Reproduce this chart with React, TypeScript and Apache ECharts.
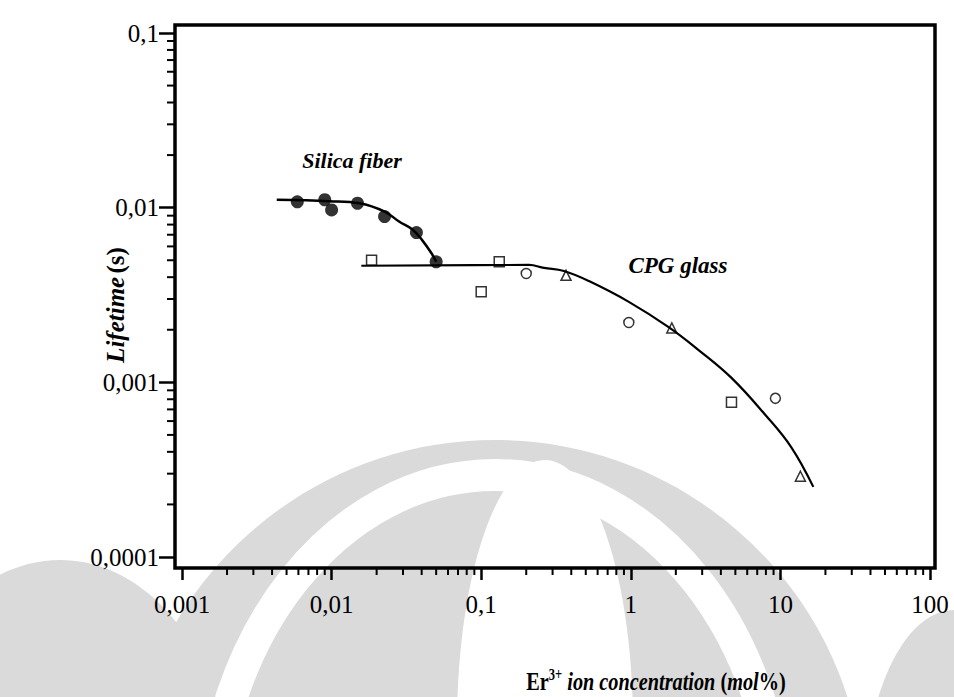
import React, { useEffect, useRef } from 'react';
import * as echarts from 'echarts';

// Axis ranges / tick labels
const xTickValues = [0.001, 0.01, 0.1, 1, 10, 100];
const yTickValues = [0.0001, 0.001, 0.01, 0.1];
const X_MIN = 0.001;
const X_MAX = 100;
const Y_MIN = 0.0001;
const Y_MAX = 0.1;

// Silica fiber measured points (filled)
const silicaX = [0.0059, 0.009, 0.01, 0.0149, 0.0226, 0.0369, 0.05];
const silicaY = [0.0108, 0.0111, 0.0097, 0.0106, 0.0089, 0.0072, 0.0049];
// Silica fiber fitted curve
const silicaFitX = [0.0043, 0.0097, 0.0154, 0.0226, 0.0284, 0.0347, 0.0404, 0.0464, 0.0501];
const silicaFitY = [0.0111, 0.0109, 0.0106, 0.0095, 0.0083, 0.0075, 0.0065, 0.0055, 0.0049];

// CPG glass measured points (open)
const cpgX = [0.0185, 0.1, 0.132, 0.2, 0.369, 0.97, 1.88, 4.71, 9.26, 13.6];
const cpgY = [0.005, 0.0033, 0.0049, 0.0042, 0.0041, 0.0022, 0.00205, 0.00077, 0.00081, 0.00029];
const cpgShapes = ['rect', 'rect', 'rect', 'circle', 'triangle', 'circle', 'triangle', 'rect', 'circle', 'triangle'];
// CPG glass fitted curve
const cpgFitX = [0.0158, 0.209, 0.263, 0.357, 0.525, 0.97, 1.79, 2.84, 4.71, 7.94, 11.8, 16.6];
const cpgFitY = [0.00465, 0.0047, 0.00452, 0.00434, 0.0038, 0.00289, 0.00207, 0.00153, 0.00106, 0.00065, 0.000426, 0.000252];

const minorMultipliers = [2, 3, 4, 5, 6, 7, 8, 9];
const xDecades = [0.001, 0.01, 0.1, 1, 10];
const yDecades = [0.0001, 0.001, 0.01];

const FONT = '"Liberation Serif", "Times New Roman", serif';
const X_OFFSET = 11;
const Y_OFFSET = 7;
const WM = '#dadada';

const fmt = (v: number) => {
  const n = Number(v.toPrecision(6));
  return String(n).replace('.', ',');
};

export default function App() {
  const ref = useRef<HTMLDivElement>(null);
  useEffect(() => {
    if (!ref.current) return;
    const chart = echarts.init(ref.current, null, { renderer: 'svg' });

    const xMinor: number[][] = [];
    xDecades.forEach((d) => minorMultipliers.forEach((m) => xMinor.push([Number((m * d).toPrecision(6)), Y_MIN])));
    const yMinor: number[][] = [];
    yDecades.forEach((d) => minorMultipliers.forEach((m) => yMinor.push([X_MIN, Number((m * d).toPrecision(6))])));

    const watermark = {
      type: 'group',
      silent: true,
      z: -10,
      children: [
        { type: 'ellipse', shape: { cx: 495, cy: 810, rx: 370, ry: 370 }, style: { fill: WM } },
        { type: 'ellipse', shape: { cx: 495, cy: 835, rx: 285, ry: 360 }, style: { fill: 'none', stroke: '#fff', lineWidth: 32 } },
        { type: 'ellipse', shape: { cx: 545, cy: 725, rx: 88, ry: 265 }, style: { fill: '#fff' } },
        { type: 'ellipse', shape: { cx: 60, cy: 790, rx: 170, ry: 230 }, style: { fill: WM } },
        { type: 'ellipse', shape: { cx: 954, cy: 800, rx: 90, ry: 190 }, style: { fill: WM } },
      ],
    };

    const option: any = {
      animation: false,
      backgroundColor: '#fff',
      grid: { left: 182, top: 33, width: 748, height: 524 },
      xAxis: {
        type: 'log',
        logBase: 10,
        min: X_MIN,
        max: X_MAX,
        offset: X_OFFSET,
        axisLine: { show: false },
        axisTick: { show: true, length: 12, lineStyle: { color: '#000', width: 2.5 } },
        axisLabel: { margin: 24, color: '#000', fontFamily: FONT, fontSize: 25, formatter: fmt },
        splitLine: { show: false },
      },
      yAxis: {
        type: 'log',
        logBase: 10,
        min: Y_MIN,
        max: Y_MAX,
        offset: Y_OFFSET,
        axisLine: { show: false },
        axisTick: { show: true, length: 16, lineStyle: { color: '#000', width: 2.5 } },
        axisLabel: { margin: 16, color: '#000', fontFamily: FONT, fontSize: 25, formatter: fmt },
        splitLine: { show: false },
      },
      graphic: [
        watermark,
        {
          type: 'rect',
          shape: { x: 175, y: 25, width: 760, height: 543 },
          style: { fill: 'none', stroke: '#000', lineWidth: 3.5 },
          z: 100,
          silent: true,
        },
        {
          type: 'text',
          x: 352,
          y: 160,
          style: {
            text: 'Silica fiber',
            font: `italic bold 22px ${FONT}`,
            fill: '#000',
            align: 'center',
            verticalAlign: 'middle',
          },
        },
        {
          type: 'text',
          x: 678,
          y: 265,
          style: {
            text: 'CPG glass',
            font: `italic bold 23px ${FONT}`,
            fill: '#000',
            align: 'center',
            verticalAlign: 'middle',
          },
        },
        {
          type: 'text',
          x: 656,
          y: 680,
          scaleX: 0.78,
          style: {
            text: '{r|Er}{sup|3+}{i| ion concentration }{r|(}{i|mol}{r|%)}',
            align: 'center',
            verticalAlign: 'middle',
            rich: {
              r: { fontFamily: FONT, fontWeight: 'bold', fontSize: 26, fill: '#000', lineHeight: 28, verticalAlign: 'bottom' },
              i: { fontFamily: FONT, fontWeight: 'bold', fontStyle: 'italic', fontSize: 26, fill: '#000', lineHeight: 28, verticalAlign: 'bottom' },
              sup: { fontFamily: FONT, fontWeight: 'bold', fontSize: 16, fill: '#000', lineHeight: 28, verticalAlign: 'top' },
            },
          },
        },
        {
          type: 'text',
          x: 115,
          y: 305,
          rotation: Math.PI / 2,
          style: {
            text: '{i|Lifetime} {r|(s)}',
            align: 'center',
            verticalAlign: 'middle',
            rich: {
              r: { fontFamily: FONT, fontWeight: 'bold', fontSize: 25, fill: '#000' },
              i: { fontFamily: FONT, fontWeight: 'bold', fontStyle: 'italic', fontSize: 25, fill: '#000' },
            },
          },
        },
      ],
      series: [
        {
          name: 'Silica fit',
          type: 'line',
          data: silicaFitX.map((x, i) => [x, silicaFitY[i]]),
          smooth: 0.4,
          showSymbol: false,
          lineStyle: { color: '#000', width: 2.5 },
          silent: true,
        },
        {
          name: 'CPG fit',
          type: 'line',
          data: cpgFitX.map((x, i) => [x, cpgFitY[i]]),
          smooth: 0.4,
          showSymbol: false,
          lineStyle: { color: '#000', width: 2.2 },
          silent: true,
        },
        {
          name: 'Silica fiber',
          type: 'scatter',
          data: silicaX.map((x, i) => [x, silicaY[i]]),
          symbol: 'circle',
          symbolSize: 13,
          itemStyle: { color: '#000' },
          z: 5,
        },
        {
          name: 'CPG glass',
          type: 'scatter',
          data: cpgX.map((x, i) => ({ value: [x, cpgY[i]], symbol: cpgShapes[i] })),
          symbolSize: 10,
          itemStyle: { color: 'transparent', borderColor: '#000', borderWidth: 1.5 },
          z: 5,
        },
        {
          name: 'x minor ticks',
          type: 'custom',
          clip: false,
          silent: true,
          data: xMinor,
          renderItem: (_p: any, api: any) => {
            const p = api.coord([api.value(0), api.value(1)]);
            return {
              type: 'line',
              shape: { x1: p[0], y1: p[1] + X_OFFSET, x2: p[0], y2: p[1] + X_OFFSET + 7 },
              style: { stroke: '#000', lineWidth: 2 },
            };
          },
        },
        {
          name: 'y minor ticks',
          type: 'custom',
          clip: false,
          silent: true,
          data: yMinor,
          renderItem: (_p: any, api: any) => {
            const p = api.coord([api.value(0), api.value(1)]);
            return {
              type: 'line',
              shape: { x1: p[0] - Y_OFFSET, y1: p[1], x2: p[0] - Y_OFFSET - 8, y2: p[1] },
              style: { stroke: '#000', lineWidth: 2 },
            };
          },
        },
      ],
    };
    chart.setOption(option);
    return () => chart.dispose();
  }, []);

  return <div ref={ref} style={{ width: 954, height: 697, position: 'absolute', left: 0, top: 0 }} />;
}
